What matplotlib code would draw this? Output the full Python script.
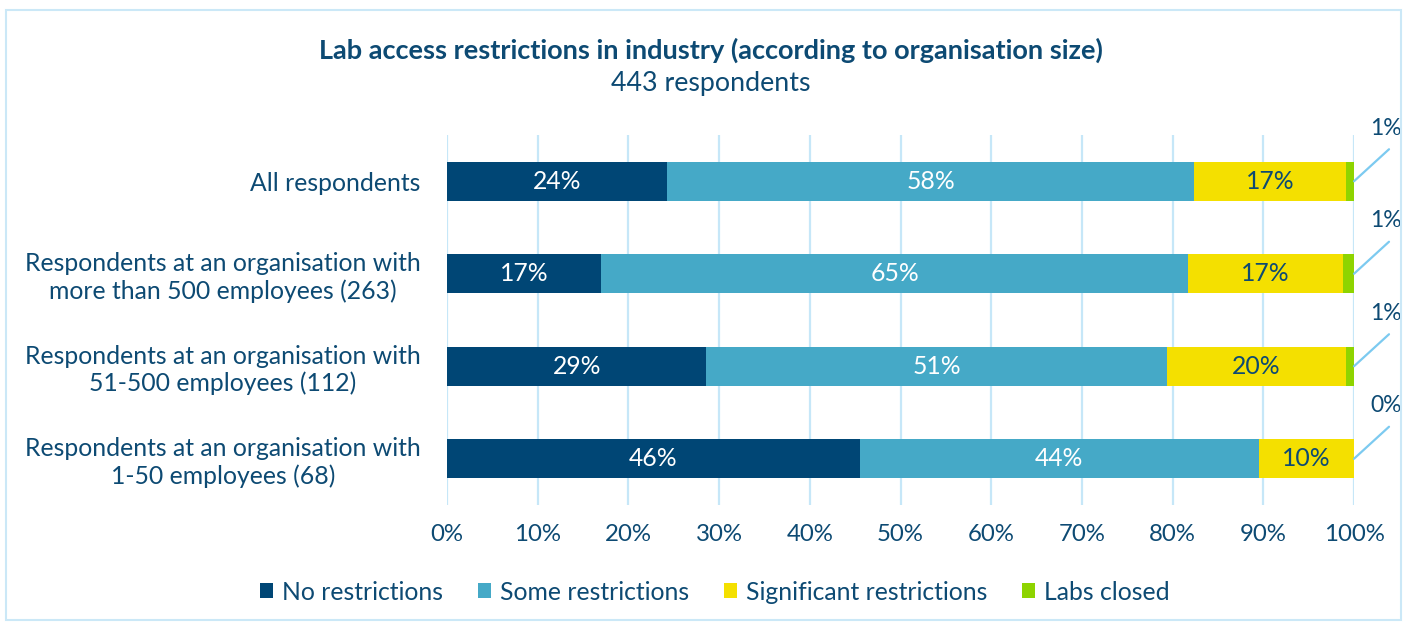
import matplotlib
matplotlib.use("Agg")
import matplotlib.pyplot as plt
from matplotlib.patches import Rectangle

categories = [
    "All respondents",
    "Respondents at an organisation with\nmore than 500 employees (263)",
    "Respondents at an organisation with\n51-500 employees (112)",
    "Respondents at an organisation with\n1-50 employees (68)",
]
series_names = ["No restrictions", "Some restrictions", "Significant restrictions", "Labs closed"]
no_restr = [24.3, 17.0, 28.6, 45.5]
some_restr = [58.1, 64.7, 50.8, 44.0]
signif_restr = [16.7, 17.1, 19.7, 10.5]
labs_closed = [0.9, 1.2, 0.9, 0.0]

COLORS = ["#004675", "#45A9C7", "#F4E000", "#8ED400"]
TEXT_COLOR = ["white", "white", "#0D4A73", "#0D4A73"]
DARK = "#0D4A73"
GRID = "#C6E7F8"
FS = 17.8

plt.rcParams["font.family"] = ["Lato", "DejaVu Sans"]

fig = plt.figure(figsize=(14.07, 6.28), dpi=100)
ax = fig.add_axes([447 / 1407, 1 - 505 / 628, (1354 - 447) / 1407, 370 / 628])

ypos = list(range(len(categories)))
left = [0.0] * len(categories)
all_series = [no_restr, some_restr, signif_restr, labs_closed]
for k, vals in enumerate(all_series):
    bars = ax.barh(ypos, vals, left=left, height=0.42, color=COLORS[k],
                   label=series_names[k], zorder=3)
    if k < 3:
        for b, v in zip(bars, vals):
            ax.text(b.get_x() + b.get_width() / 2, b.get_y() + b.get_height() / 2,
                    f"{v:.0f}%", ha="center", va="center", fontsize=FS,
                    color=TEXT_COLOR[k], zorder=4)
    left = [l + v for l, v in zip(left, vals)]

# callouts for labs closed
for i, v in enumerate(labs_closed):
    ax.annotate("", xy=(100, i), xytext=(35, 32), textcoords="offset pixels",
                arrowprops=dict(arrowstyle="-", color="#7CCAF0", lw=1.6,
                                shrinkA=0, shrinkB=0), annotation_clip=False)
    ax.annotate(f"{v:.0f}%", xy=(100, i), xytext=(32, 53), textcoords="offset pixels",
                ha="center", va="center", fontsize=16.5, color=DARK,
                annotation_clip=False)

ax.set_xlim(0, 100)
ax.set_ylim(len(categories) - 0.5, -0.5)
ax.set_xticks(range(0, 101, 10))
ax.set_xticklabels([f"{t}%" for t in range(0, 101, 10)])
ax.set_yticks(ypos)
ax.set_yticklabels(categories, ha="right", multialignment="center")
ax.tick_params(axis="y", length=0, pad=19, labelsize=FS, labelcolor=DARK)
ax.tick_params(axis="x", length=0, pad=14, labelsize=17.3, labelcolor=DARK)
ax.grid(axis="x", color=GRID, lw=1.6, zorder=0)
for s in ax.spines.values():
    s.set_visible(False)

fig.text(0.505, 1 - 50 / 628, "Lab access restrictions in industry (according to organisation size)",
         ha="center", va="center", fontsize=19.5, fontweight="bold", color=DARK)
fig.text(0.505, 1 - 84 / 628, "443 respondents", ha="center", va="center",
         fontsize=19.3, color=DARK)

fig.legend(loc="center", bbox_to_anchor=(0.508, 1 - 592 / 628), ncol=4, frameon=False,
           fontsize=FS, labelcolor=DARK, handlelength=0.55, handleheight=0.55,
           handletextpad=0.35, columnspacing=1.4)

fig.patches.append(Rectangle((6 / 1407, 1 - 620 / 628), 1395 / 1407, 610 / 628,
                             transform=fig.transFigure, fill=False,
                             edgecolor="#CBE8F7", lw=1.5))

fig.savefig("out.png", dpi=100)
